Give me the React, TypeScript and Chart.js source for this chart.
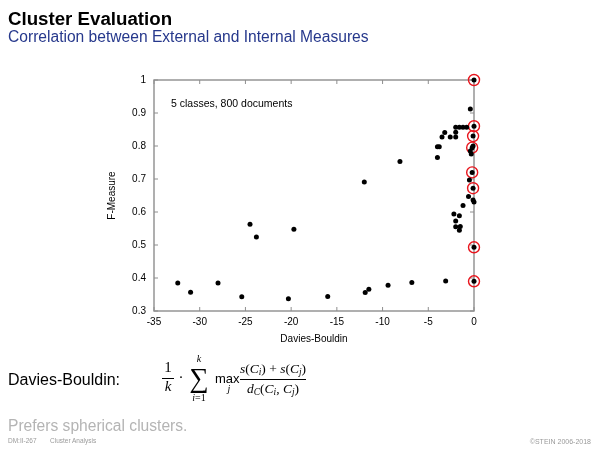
import React, { useEffect, useRef } from "react";
import { Chart, registerables } from "chart.js";

Chart.register(...registerables);

// ---------- data ----------
const daviesBouldin = [
  -32.4, -31.0, -28.0, -25.4, -24.5, -23.8, -20.3, -19.7, -16.0, -12.0,
  -11.9, -11.5, -9.4, -8.1, -6.8, -3.1, -4.0, -3.8, -4.0, -3.2,
  -3.5, -2.6, -2.0, -2.0, -2.0, -1.6, -1.2, -0.8, -0.4, 0.0,
  0.0, -0.1, -0.2, -0.4, -0.3, -0.2, -0.5, -0.1, -0.6, -0.1,
  0.0, -1.2, -2.2, -1.6, -2.0, -2.0, -1.5, -1.6, 0.0, 0.0, -0.1,
];
const fMeasure = [
  0.385, 0.357, 0.385, 0.343, 0.563, 0.524, 0.337, 0.548, 0.344, 0.691,
  0.356, 0.366, 0.378, 0.753, 0.386, 0.391, 0.798, 0.798, 0.765, 0.841,
  0.827, 0.827, 0.827, 0.842, 0.857, 0.857, 0.857, 0.857, 0.912, 1.0,
  0.86, 0.83, 0.795, 0.785, 0.776, 0.72, 0.697, 0.672, 0.647, 0.636,
  0.63, 0.62, 0.594, 0.589, 0.573, 0.555, 0.556, 0.545, 0.493, 0.39, 0.8,
];
const markedDaviesBouldin = [0.0, 0.0, -0.1, -0.2, -0.2, -0.1, 0.0, 0.0];
const markedFMeasure = [1.0, 0.86, 0.83, 0.795, 0.72, 0.672, 0.493, 0.39];

const xTickValues = [-35, -30, -25, -20, -15, -10, -5, 0];
const yTickValues = [0.3, 0.4, 0.5, 0.6, 0.7, 0.8, 0.9, 1];
const xAxisTitle = "Davies-Bouldin";
const yAxisTitle = "F-Measure";
const noteText = "5 classes, 800 documents";

const SANS = '"Liberation Sans", Arial, Helvetica, sans-serif';
const SERIF = '"Liberation Serif", "Times New Roman", serif';

const framePlugin = {
  id: "gnuFrame",
  beforeDatasetsDraw(chart: any) {
    const { ctx, chartArea } = chart;
    const { left, right, top, bottom } = chartArea;
    const xs = chart.scales.x;
    const ys = chart.scales.y;
    ctx.save();
    ctx.strokeStyle = "#8e8e8e";
    ctx.lineWidth = 1.4;
    ctx.strokeRect(left, top, right - left, bottom - top);
    ctx.beginPath();
    const tl = 4;
    xs.ticks.forEach((t: any) => {
      const px = xs.getPixelForValue(t.value);
      ctx.moveTo(px, bottom);
      ctx.lineTo(px, bottom - tl);
      ctx.moveTo(px, top);
      ctx.lineTo(px, top + tl);
    });
    ys.ticks.forEach((t: any) => {
      const py = ys.getPixelForValue(t.value);
      ctx.moveTo(left, py);
      ctx.lineTo(left + tl, py);
      ctx.moveTo(right, py);
      ctx.lineTo(right - tl, py);
    });
    ctx.lineWidth = 1;
    ctx.stroke();
    ctx.restore();
  },
};

type TProps = {
  x: number;
  baseline: number;
  size: number;
  align?: "left" | "center" | "right";
  color?: string;
  family?: string;
  weight?: string | number;
  italic?: boolean;
  children: React.ReactNode;
};

function T({ x, baseline, size, align = "left", color = "#000", family = SANS, weight = "normal", italic = false, children }: TProps) {
  const w = 400;
  const left = align === "left" ? x : align === "center" ? x - w / 2 : x - w;
  return (
    <div
      style={{
        position: "absolute",
        left,
        width: w,
        top: baseline - 0.85 * size,
        fontSize: size,
        lineHeight: `${size}px`,
        height: size,
        textAlign: align,
        color,
        fontFamily: family,
        fontWeight: weight as any,
        fontStyle: italic ? "italic" : "normal",
        whiteSpace: "nowrap",
      }}
    >
      {children}
    </div>
  );
}

const subStyle: React.CSSProperties = { fontSize: "0.7em", verticalAlign: "-0.25em", lineHeight: 0 };

export default function App() {
  const ref = useRef<HTMLCanvasElement>(null);

  useEffect(() => {
    if (!ref.current) return;
    const points = daviesBouldin.map((v, i) => ({ x: v, y: fMeasure[i] }));
    const marked = markedDaviesBouldin.map((v, i) => ({ x: v, y: markedFMeasure[i] }));
    const tickFont = { family: SANS, size: 10 };
    const chart = new Chart(ref.current, {
      type: "scatter",
      data: {
        datasets: [
          {
            data: points,
            pointRadius: 2.5,
            pointBackgroundColor: "#000",
            pointBorderWidth: 0,
            clip: false as any,
          },
          {
            data: marked,
            pointRadius: 5.5,
            pointBackgroundColor: "rgba(0,0,0,0)",
            pointBorderColor: "#e8141c",
            pointBorderWidth: 1.4,
            clip: false as any,
          },
        ],
      },
      options: {
        responsive: false,
        animation: false,
        events: [],
        layout: { padding: { left: 100, right: 126, top: 80, bottom: 105 } },
        plugins: { legend: { display: false }, tooltip: { enabled: false } },
        scales: {
          x: {
            type: "linear",
            min: -35,
            max: 0,
            afterBuildTicks: (s: any) => {
              s.ticks = xTickValues.map((v) => ({ value: v }));
            },
            afterFit: (s: any) => {
              s.height = 34;
            },
            grid: { display: false, drawTicks: false },
            border: { display: false },
            ticks: {
              padding: 5,
              color: "#000",
              font: tickFont,
              maxRotation: 0,
              autoSkip: false,
              callback: (v: any) => String(v),
            },
            title: { display: true, text: xAxisTitle, color: "#000", font: tickFont, padding: 0 },
          },
          y: {
            type: "linear",
            min: 0.3,
            max: 1,
            afterBuildTicks: (s: any) => {
              s.ticks = yTickValues.map((v) => ({ value: v }));
            },
            afterFit: (s: any) => {
              s.width = 54;
            },
            grid: { display: false, drawTicks: false },
            border: { display: false },
            ticks: {
              padding: 8,
              color: "#000",
              font: tickFont,
              autoSkip: false,
              callback: (v: any) => String(Math.round(v * 10) / 10),
            },
            title: { display: true, text: yAxisTitle, color: "#000", font: tickFont, padding: { top: 6, bottom: 0 } },
          },
        },
      },
      plugins: [framePlugin],
    } as any);
    return () => chart.destroy();
  }, []);

  return (
    <div
      style={{
        position: "fixed",
        left: 0,
        top: 0,
        width: 600,
        height: 450,
        background: "#fff",
        overflow: "hidden",
        fontFamily: SANS,
      }}
    >
      <canvas ref={ref} width={600} height={450} style={{ position: "absolute", left: 0, top: 0, width: 600, height: 450 }} />

      <T x={8} baseline={25.5} size={18.7} weight="bold">Cluster Evaluation</T>
      <T x={8} baseline={42} size={15.6} color="rgb(38,56,140)">Correlation between External and Internal Measures</T>

      <T x={171} baseline={107} size={10.5}>{noteText}</T>

      {/* formula */}
      <T x={8} baseline={386} size={16}>Davies-Bouldin:</T>
      <T x={168} baseline={373} size={15} align="center" family={SERIF}>1</T>
      <div style={{ position: "absolute", left: 162, width: 12, top: 378, height: 1, background: "#000" }} />
      <T x={168} baseline={392} size={15} align="center" family={SERIF} italic>k</T>
      <T x={181} baseline={383} size={15} align="center" family={SERIF}>·</T>
      <T x={199} baseline={362} size={10} align="center" family={SERIF} italic>k</T>
      <T x={199} baseline={388} size={27} align="center" family={SERIF}>∑</T>
      <T x={199} baseline={401} size={10} align="center" family={SERIF}>
        <i>i</i>=1
      </T>
      <T x={215} baseline={383} size={13}>max</T>
      <T x={229} baseline={392} size={10} align="center" family={SERIF} italic>j</T>
      <T x={273} baseline={373} size={13.5} align="center" family={SERIF}>
        <i>s</i>(<i>C</i><i style={subStyle}>i</i>) + <i>s</i>(<i>C</i><i style={subStyle}>j</i>)
      </T>
      <div style={{ position: "absolute", left: 240, width: 66, top: 379, height: 1, background: "#000" }} />
      <T x={273} baseline={393} size={13.5} align="center" family={SERIF}>
        <i>d</i><i style={subStyle}>C</i>(<i>C</i><i style={subStyle}>i</i>, <i>C</i><i style={subStyle}>j</i>)
      </T>

      <T x={8} baseline={431} size={15.6} color="#b4b4b4">Prefers spherical clusters.</T>

      <T x={8} baseline={444} size={6.5} color="#9a9a9a">DM:II-267</T>
      <T x={50} baseline={444} size={6.5} color="#9a9a9a">Cluster Analysis</T>
      <T x={591} baseline={444} size={7} align="right" color="#9a9a9a">©STEIN 2006-2018</T>
    </div>
  );
}
